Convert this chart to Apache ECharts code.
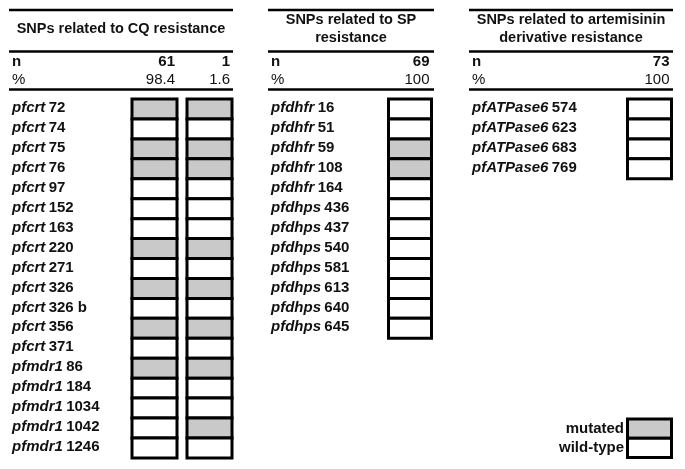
<!DOCTYPE html>
<html>
<head>
<meta charset="utf-8">
<script src="https://cdn.jsdelivr.net/npm/echarts@6/dist/echarts.min.js"></script>
<style>html,body{margin:0;padding:0;background:#fff}#c{width:685px;height:469px}</style>
</head>
<body>
<div id="c"></div>
<script>
// ---------- data ----------
const cqTitle = 'SNPs related to CQ resistance';
const cqRows = ['pfcrt 72','pfcrt 74','pfcrt 75','pfcrt 76','pfcrt 97','pfcrt 152','pfcrt 163','pfcrt 220','pfcrt 271','pfcrt 326','pfcrt 326 b','pfcrt 356','pfcrt 371','pfmdr1 86','pfmdr1 184','pfmdr1 1034','pfmdr1 1042','pfmdr1 1246'];
const cqN = [61, 1];
const cqPct = ['98.4', '1.6'];
const cqCol1 = [1,0,1,1,0,0,0,1,0,1,0,1,0,1,0,0,0,0];
const cqCol2 = [1,0,1,1,0,0,0,1,0,1,0,1,0,1,0,0,1,0];

const spTitle = 'SNPs related to SP\nresistance';
const spRows = ['pfdhfr 16','pfdhfr 51','pfdhfr 59','pfdhfr 108','pfdhfr 164','pfdhps 436','pfdhps 437','pfdhps 540','pfdhps 581','pfdhps 613','pfdhps 640','pfdhps 645'];
const spN = [69];
const spPct = ['100'];
const spCol1 = [0,0,1,1,0,0,0,0,0,0,0,0];

const artTitle = 'SNPs related to artemisinin\nderivative resistance';
const artRows = ['pfATPase6 574','pfATPase6 623','pfATPase6 683','pfATPase6 769'];
const artN = [73];
const artPct = ['100'];
const artCol1 = [0,0,0,0];

const legendRows = ['mutated','wild-type'];
const legendVals = [1, 0];

// ---------- style ----------
const FONT = "'Liberation Sans', Arial, Helvetica, sans-serif";
const GRAY = '#c9c9c9';
const INK = '#111';
const ROWH = 19.94;
const TOP = 99;

const panels = [
  { title: cqTitle, rows: cqRows, cols: [cqCol1, cqCol2], n: cqN, pct: cqPct,
    lineX: [9, 233], gridLeft: 132, gridWidth: 100, labelX: 12, gap: 10 },
  { title: spTitle, rows: spRows, cols: [spCol1], n: spN, pct: spPct,
    lineX: [268, 434], gridLeft: 388.5, gridWidth: 43, labelX: 271, gap: 0 },
  { title: artTitle, rows: artRows, cols: [artCol1], n: artN, pct: artPct,
    lineX: [469, 673], gridLeft: 627.5, gridWidth: 44, labelX: 472, gap: 0 }
];

function makeRender(ncol, gap) {
  return function (params, api) {
    const xi = api.value(0), yi = api.value(1);
    const c = api.coord([xi, yi]);
    const s = api.size([1, 1]);
    let x0 = c[0] - s[0] / 2, w = s[0];
    if (ncol > 1) {
      if (xi === 0) { w -= gap / 2; }
      else if (xi === ncol - 1) { x0 += gap / 2; w -= gap / 2; }
      else { x0 += gap / 2; w -= gap; }
    }
    return {
      type: 'rect',
      shape: { x: x0, y: c[1] - s[1] / 2, width: w, height: s[1] },
      style: { fill: api.value(2) ? GRAY : '#fff', stroke: '#000', lineWidth: 3, lineJoin: 'miter' }
    };
  };
}

const grids = [], xAxes = [], yAxes = [], series = [], graphics = [];

function rowLabel(v) {
  const i = v.indexOf(' ');
  return '{g|' + v.slice(0, i) + '} {p|' + v.slice(i + 1) + '}';
}
const rich = {
  g: { fontFamily: FONT, fontStyle: 'italic', fontWeight: 'bold', fontSize: 15, color: INK },
  p: { fontFamily: FONT, fontWeight: 'bold', fontSize: 15, color: INK }
};

panels.forEach((p, k) => {
  const h = p.rows.length * ROWH;
  grids.push({ left: p.gridLeft, top: TOP, width: p.gridWidth, height: h, outerBoundsMode: 'none', containLabel: false });
  xAxes.push({ gridIndex: k, type: 'category', data: p.cols.map((_, i) => i), show: false });
  yAxes.push({
    gridIndex: k, type: 'category', inverse: true, data: p.rows,
    axisLine: { show: false }, axisTick: { show: false }, splitLine: { show: false },
    axisLabel: { interval: 0, hideOverlap: false, align: 'left', margin: p.gridLeft - p.labelX,
      formatter: rowLabel, rich: rich, padding: [0, 0, 2, 0] }
  });
  const data = [];
  p.cols.forEach((col, ci) => col.forEach((v, ri) => data.push([ci, ri, v])));
  series.push({ type: 'custom', xAxisIndex: k, yAxisIndex: k, renderItem: makeRender(p.cols.length, p.gap), data: data, silent: true, animation: false });

  // header lines
  [10, 51.5, 89.5].forEach(y => graphics.push({
    type: 'line', silent: true,
    shape: { x1: p.lineX[0], y1: y, x2: p.lineX[1], y2: y },
    style: { stroke: '#000', lineWidth: 2.6 }
  }));
  // title
  graphics.push({
    type: 'text', silent: true,
    x: (p.lineX[0] + p.lineX[1]) / 2, y: 29,
    style: { text: p.title, font: 'bold 14.5px ' + FONT, fill: INK, align: 'center', verticalAlign: 'middle', lineHeight: 18 }
  });
  // n / % labels
  graphics.push({ type: 'text', silent: true, x: p.labelX, y: 62,
    style: { text: 'n', font: 'bold 15px ' + FONT, fill: INK, align: 'left', verticalAlign: 'middle' } });
  graphics.push({ type: 'text', silent: true, x: p.labelX, y: 80,
    style: { text: '%', font: '15px ' + FONT, fill: INK, align: 'left', verticalAlign: 'middle' } });
  const band = p.gridWidth / p.cols.length;
  p.n.forEach((nv, ci) => {
    const right = p.gridLeft + band * (ci + 1) - (ci === p.cols.length - 1 ? 0 : p.gap / 2) - 2;
    graphics.push({ type: 'text', silent: true, x: right, y: 62,
      style: { text: String(nv), font: 'bold 15px ' + FONT, fill: INK, align: 'right', verticalAlign: 'middle' } });
    graphics.push({ type: 'text', silent: true, x: right, y: 80,
      style: { text: p.pct[ci], font: '15px ' + FONT, fill: INK, align: 'right', verticalAlign: 'middle' } });
  });
});

// legend as its own grid
const lk = panels.length;
grids.push({ left: 627.5, top: 419, width: 44, height: 38.5, outerBoundsMode: 'none', containLabel: false });
xAxes.push({ gridIndex: lk, type: 'category', data: [0], show: false });
yAxes.push({
  gridIndex: lk, type: 'category', inverse: true, data: legendRows,
  axisLine: { show: false }, axisTick: { show: false }, splitLine: { show: false },
  axisLabel: { interval: 0, hideOverlap: false, align: 'right', margin: 3.5,
    fontFamily: FONT, fontWeight: 'bold', fontSize: 15, color: INK }
});
series.push({ type: 'custom', xAxisIndex: lk, yAxisIndex: lk, renderItem: makeRender(1, 0),
  data: legendVals.map((v, i) => [0, i, v]), silent: true, animation: false });

const chart = echarts.init(document.getElementById('c'), null, { renderer: 'canvas' });
chart.setOption({
  backgroundColor: '#fff',
  animation: false,
  grid: grids, xAxis: xAxes, yAxis: yAxes, series: series,
  graphic: graphics
});
</script>
</body>
</html>
